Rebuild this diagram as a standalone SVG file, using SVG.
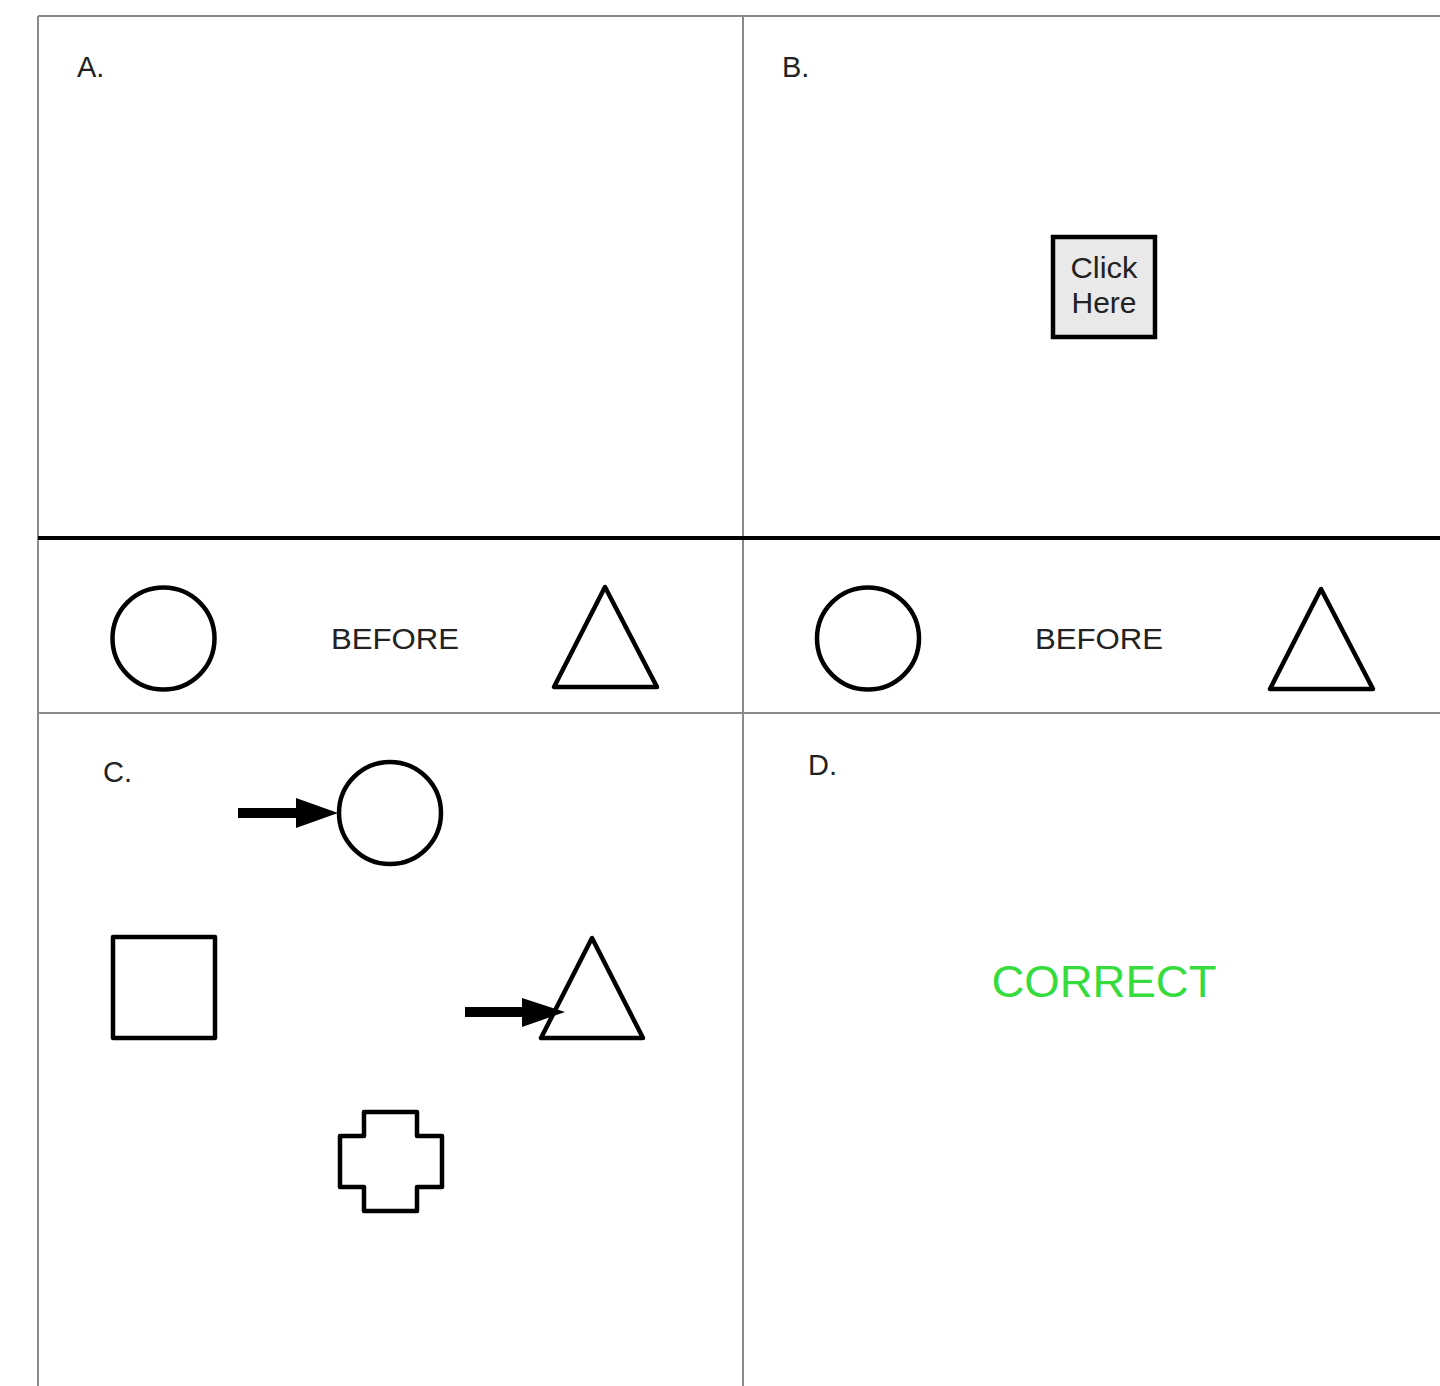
<svg xmlns="http://www.w3.org/2000/svg" width="1440" height="1386" viewBox="0 0 1440 1386">
<defs>
<style>
.grid{stroke:#8a8a8a;stroke-width:2;fill:none}
.shape{stroke:#000;stroke-width:4.5;fill:none;stroke-linejoin:round}
.lbl{font-family:"Liberation Sans",Arial,sans-serif;font-size:29px;fill:#222}
.mid{font-family:"Liberation Sans",Arial,sans-serif;font-size:30px;fill:#222;text-anchor:middle}
.arrow{fill:#000;stroke:none}
</style>
</defs>
<rect width="1440" height="1386" fill="#fff"/>
<g id="grid">
<line class="grid" x1="38" y1="16" x2="1440" y2="16"/>
<line class="grid" x1="38" y1="16" x2="38" y2="1386"/>
<line class="grid" x1="743" y1="16" x2="743" y2="1386"/>
<line class="grid" x1="38" y1="713" x2="1440" y2="713"/>
<line x1="38" y1="538" x2="1440" y2="538" stroke="#000" stroke-width="4"/>
</g>
<g id="labels">
<text class="lbl" x="77" y="77">A.</text>
<text class="lbl" x="782" y="77">B.</text>
<text class="lbl" x="103" y="782">C.</text>
<text class="lbl" x="808" y="775">D.</text>
</g>
<g id="click-here">
<rect x="1053" y="237" width="102" height="100" fill="#e9e9e9" stroke="#000" stroke-width="4.5"/>
<text class="mid" x="1104" y="278" textLength="67" lengthAdjust="spacingAndGlyphs">Click</text>
<text class="mid" x="1104" y="313" textLength="65" lengthAdjust="spacingAndGlyphs">Here</text>
</g>
<g id="before-left">
<circle class="shape" cx="163.5" cy="638.5" r="51"/>
<text class="mid" x="395" y="649" textLength="128" lengthAdjust="spacingAndGlyphs">BEFORE</text>
<polygon class="shape" points="605,587 554,687 657,687"/>
</g>
<g id="before-right">
<circle class="shape" cx="868" cy="638.5" r="51"/>
<text class="mid" x="1099" y="649" textLength="128" lengthAdjust="spacingAndGlyphs">BEFORE</text>
<polygon class="shape" points="1321,589 1270,689 1373,689"/>
</g>
<g id="c-circle"><circle class="shape" cx="390" cy="813" r="51"/></g>
<g id="c-square"><rect class="shape" x="113" y="937" width="102" height="101"/></g>
<g id="c-triangle"><polygon class="shape" points="592,938 541,1038 643,1038"/></g>
<g id="c-cross"><polygon class="shape" points="364,1112 417,1112 417,1136 442,1136 442,1187 417,1187 417,1211 364,1211 364,1187 340,1187 340,1136 364,1136"/></g>
<g id="connectors">
<polygon class="arrow" points="238,808 296,808 296,798 338,813 296,828 296,818 238,818"/>
<polygon class="arrow" points="465,1007 522,1007 522,998 565,1012 522,1027 522,1017 465,1017"/>
</g>
<g id="correct">
<text x="1104" y="997" font-family="'Liberation Sans',Arial,sans-serif" font-size="44" fill="#36dc3e" text-anchor="middle" textLength="225" lengthAdjust="spacingAndGlyphs">CORRECT</text>
</g>
</svg>
